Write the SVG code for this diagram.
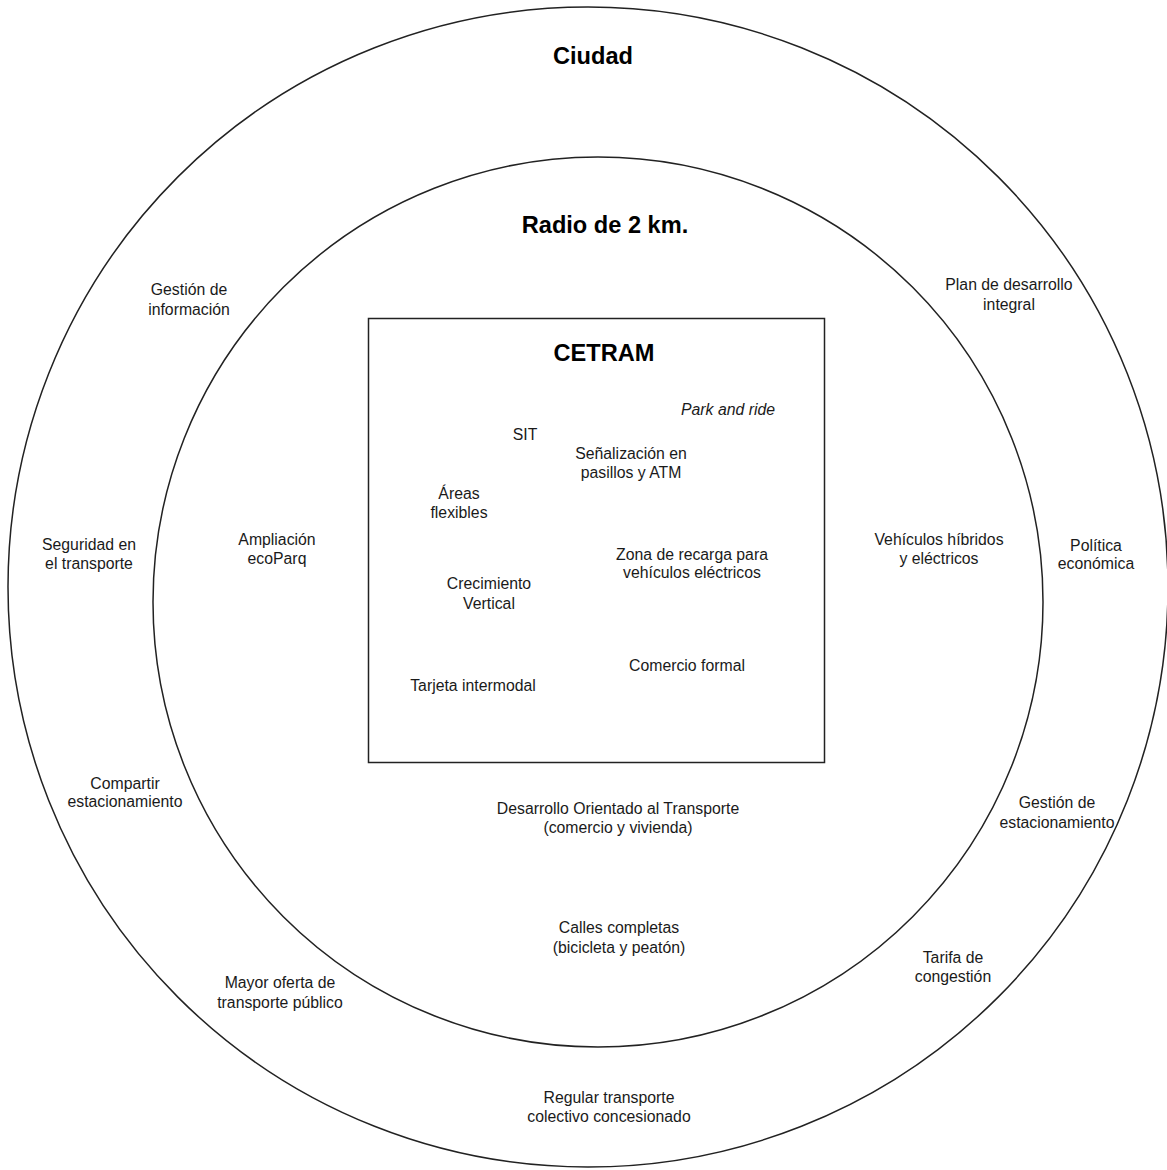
<svg xmlns="http://www.w3.org/2000/svg" width="1167" height="1170" viewBox="0 0 1167 1170">
<style>
text{font-family:"Liberation Sans",Arial,sans-serif;font-size:15.8px;fill:#1a1a1a;text-anchor:middle}
.h{font-size:23.6px;font-weight:bold;fill:#000}
.i{font-style:italic}
.ln{fill:none;stroke:#222;stroke-width:1.5}
</style>
<rect width="1167" height="1170" fill="#fff"/>
<g id="ciudad">
<circle class="ln" cx="588" cy="587" r="580"/>
<text class="h" x="593" y="64">Ciudad</text>
</g>
<g id="radio">
<circle class="ln" cx="598" cy="602" r="445"/>
<text class="h" x="605" y="233">Radio de 2 km.</text>
</g>
<g id="cetram">
<rect class="ln" x="368.5" y="318.5" width="456" height="444" stroke="#444"/>
<text class="h" x="604" y="361">CETRAM</text>
</g>
<g id="connectors"></g>
<g id="n-park"><text class="i" x="728" y="415">Park and ride</text></g>
<g id="n-sit"><text x="525" y="440">SIT</text></g>
<g id="n-senal"><text x="631" y="459">Señalización en</text><text x="631" y="478">pasillos y ATM</text></g>
<g id="n-areas"><text x="459" y="499">Áreas</text><text x="459" y="518">flexibles</text></g>
<g id="n-ecoparq"><text x="277" y="545">Ampliación</text><text x="277" y="564">ecoParq</text></g>
<g id="n-zona"><text x="692" y="560">Zona de recarga para</text><text x="692" y="578">vehículos eléctricos</text></g>
<g id="n-crec"><text x="489" y="589">Crecimiento</text><text x="489" y="609">Vertical</text></g>
<g id="n-comercio"><text x="687" y="671">Comercio formal</text></g>
<g id="n-tarjeta"><text x="473" y="691">Tarjeta intermodal</text></g>
<g id="n-gestinfo"><text x="189" y="295">Gestión de</text><text x="189" y="315">información</text></g>
<g id="n-plan"><text x="1009" y="290">Plan de desarrollo</text><text x="1009" y="310">integral</text></g>
<g id="n-seg"><text x="89" y="550">Seguridad en</text><text x="89" y="569">el transporte</text></g>
<g id="n-vehic"><text x="939" y="545">Vehículos híbridos</text><text x="939" y="564">y eléctricos</text></g>
<g id="n-pol"><text x="1096" y="551">Política</text><text x="1096" y="569">económica</text></g>
<g id="n-compartir"><text x="125" y="789">Compartir</text><text x="125" y="807">estacionamiento</text></g>
<g id="n-dot"><text x="618" y="814">Desarrollo Orientado al Transporte</text><text x="618" y="833">(comercio y vivienda)</text></g>
<g id="n-gestest"><text x="1057" y="808">Gestión de</text><text x="1057" y="828">estacionamiento</text></g>
<g id="n-calles"><text x="619" y="933">Calles completas</text><text x="619" y="953">(bicicleta y peatón)</text></g>
<g id="n-tarifa"><text x="953" y="963">Tarifa de</text><text x="953" y="982">congestión</text></g>
<g id="n-mayor"><text x="280" y="988">Mayor oferta de</text><text x="280" y="1008">transporte público</text></g>
<g id="n-regular"><text x="609" y="1103">Regular transporte</text><text x="609" y="1122">colectivo concesionado</text></g>
</svg>
